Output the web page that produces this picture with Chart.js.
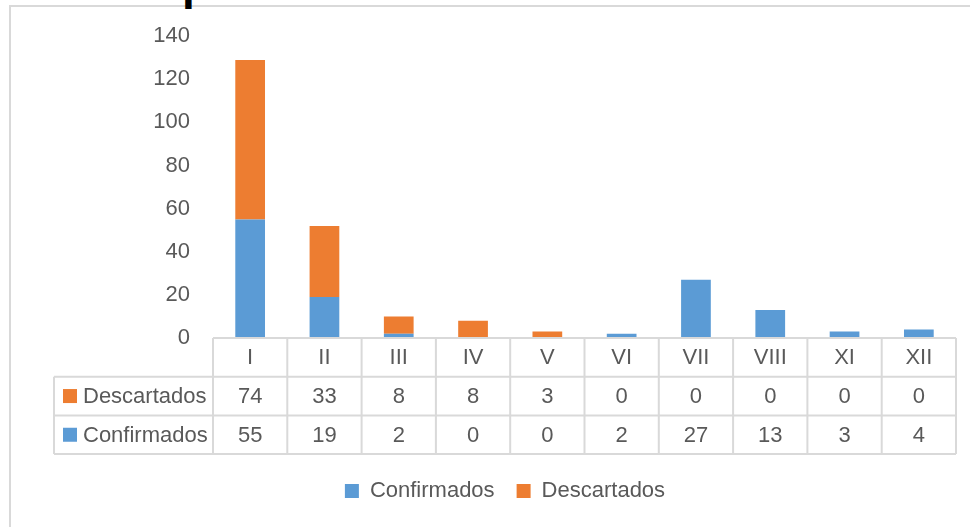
<!DOCTYPE html>
<html>
<head>
<meta charset="utf-8">
<script src="https://cdn.jsdelivr.net/npm/chart.js@4"></script>
<style>
html, body { margin: 0; padding: 0; background: #fff; }
#wrap { position: relative; width: 970px; height: 527px; overflow: hidden; }
#frame { position: absolute; left: 9px; top: 5px; width: 980px; height: 560px; border-left: 2px solid #d9d9d9; border-top: 2px solid #d9d9d9; }
#cut { position: absolute; left: 182px; top: -37px; font: bold 46px 'Liberation Sans', Arial, sans-serif; line-height: 40px; color: #000; }
canvas { position: absolute; left: 0; top: 0; }
</style>
</head>
<body>
<div id="wrap">
  <div id="frame"></div>
  <div id="cut">p</div>
  <canvas id="chart" width="970" height="527"></canvas>
</div>
<script>
const categories = ['I', 'II', 'III', 'IV', 'V', 'VI', 'VII', 'VIII', 'XI', 'XII'];
const confirmados = [55, 19, 2, 0, 0, 2, 27, 13, 3, 4];
const descartados = [74, 33, 8, 8, 3, 0, 0, 0, 0, 0];
const yMax = 140;
const yStep = 20;

const BLUE = '#5B9BD5';
const ORANGE = '#ED7D31';
const TEXT = '#595959';
const LINES = '#d9d9d9';
const FONT = "'Liberation Sans Narrow', 'Liberation Sans', Arial, sans-serif";
const FONT_SIZE = 22;

// data table under the plot (Excel style)
const tablePlugin = {
    id: 'dataTable',
    afterDraw(chart) {
        const ctx = chart.ctx;
        const x = chart.scales.x;
        const top = chart.chartArea.bottom;
        const colW = x.width / categories.length;
        const rowH = 38.7;
        const labelLeft = 54;
        const rows = [
            { name: 'Descartados', color: ORANGE, values: descartados },
            { name: 'Confirmados', color: BLUE, values: confirmados }
        ];

        ctx.save();
        ctx.strokeStyle = LINES;
        ctx.lineWidth = 2;
        ctx.beginPath();
        ctx.moveTo(x.left, top);
        ctx.lineTo(x.right, top);
        for (let r = 1; r <= 3; r++) {
            ctx.moveTo(labelLeft, top + r * rowH);
            ctx.lineTo(x.right, top + r * rowH);
        }
        for (let i = 0; i <= categories.length; i++) {
            const xx = x.left + i * colW;
            ctx.moveTo(xx, top);
            ctx.lineTo(xx, top + 3 * rowH);
        }
        ctx.moveTo(labelLeft, top + rowH);
        ctx.lineTo(labelLeft, top + 3 * rowH);
        ctx.stroke();

        ctx.fillStyle = TEXT;
        ctx.font = FONT_SIZE + 'px ' + FONT;
        ctx.textAlign = 'center';
        ctx.textBaseline = 'middle';
        categories.forEach((c, i) => {
            ctx.fillText(c, x.getPixelForValue(i), top + rowH / 2 + 1);
        });
        rows.forEach((row, r) => {
            const cy = top + (r + 1.5) * rowH;
            ctx.fillStyle = row.color;
            ctx.fillRect(63, cy - 7, 14, 14);
            ctx.fillStyle = TEXT;
            ctx.textAlign = 'left';
            ctx.fillText(row.name, 83, cy + 1);
            ctx.textAlign = 'center';
            row.values.forEach((v, i) => {
                ctx.fillText(String(v), x.getPixelForValue(i), cy + 1);
            });
        });
        ctx.restore();
    }
};

new Chart(document.getElementById('chart').getContext('2d'), {
    type: 'bar',
    data: {
        labels: categories,
        datasets: [
            { label: 'Confirmados', data: confirmados, backgroundColor: BLUE, borderWidth: 0, categoryPercentage: 1, barPercentage: 0.4 },
            { label: 'Descartados', data: descartados, backgroundColor: ORANGE, borderWidth: 0, categoryPercentage: 1, barPercentage: 0.4 }
        ]
    },
    options: {
        responsive: false,
        animation: false,
        layout: { padding: { left: 54, right: 14, top: 34, bottom: 15 } },
        scales: {
            x: {
                stacked: true,
                grid: { display: false, drawTicks: false },
                border: { display: false },
                ticks: { display: false },
                afterFit: (s) => { s.height = 120; }
            },
            y: {
                stacked: true,
                min: 0,
                max: yMax,
                grid: { display: false, drawTicks: false },
                border: { display: false },
                ticks: { stepSize: yStep, padding: 23, color: TEXT, font: { family: FONT, size: FONT_SIZE } },
                afterFit: (s) => { s.width = 159; }
            }
        },
        plugins: {
            tooltip: { enabled: false },
            legend: {
                position: 'bottom',
                labels: { boxWidth: 14, boxHeight: 14, padding: 22, color: TEXT, font: { family: FONT, size: FONT_SIZE } }
            }
        }
    },
    plugins: [tablePlugin]
});
</script>
</body>
</html>
